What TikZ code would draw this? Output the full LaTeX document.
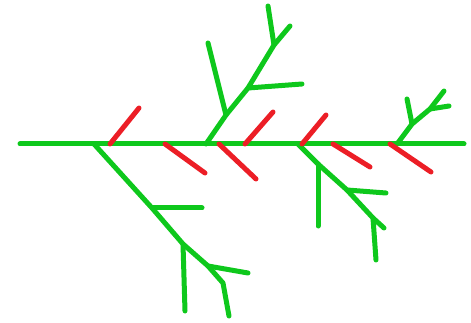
\documentclass[tikz,border=0pt]{standalone}
\definecolor{twig}{RGB}{14,200,28}
\definecolor{spur}{RGB}{236,30,38}
\tikzset{
  greenline/.style={draw=twig, line width=5pt, line cap=round, line join=round},
  redline/.style={draw=spur, line width=5pt, line cap=round},
}
\begin{document}
\begin{tikzpicture}[x=1pt,y=-1pt]
\useasboundingbox (0,0) rectangle (471,323);
% main spine
\coordinate (L) at (20,144);
\coordinate (R) at (464,144);
% red spurs
\coordinate (r1a) at (110,144); \coordinate (r1b) at (139,108);
\coordinate (r2a) at (165,144); \coordinate (r2b) at (205,173);
\coordinate (r3a) at (219,144); \coordinate (r3b) at (256,179);
\coordinate (r4a) at (245,144); \coordinate (r4b) at (273,112);
\coordinate (r5a) at (302,144); \coordinate (r5b) at (326,115);
\coordinate (r6a) at (333,144); \coordinate (r6b) at (370,167);
\coordinate (r7a) at (390,144); \coordinate (r7b) at (431,172);
% lower-left branch
\coordinate (a0) at (94,144);
\coordinate (a1) at (152,208);
\coordinate (a1e) at (202,208);
\coordinate (a2) at (183,244);
\coordinate (a2e) at (185,311);
\coordinate (a3) at (208,266);
\coordinate (a3e) at (248,273);
\coordinate (a4) at (223,283);
\coordinate (a5) at (229,316);
% upper branch
\coordinate (b0) at (206,144);
\coordinate (b1) at (226,115);
\coordinate (b1e) at (208,43);
\coordinate (b2) at (248,88);
\coordinate (b2e) at (302,84);
\coordinate (b3) at (274,45);
\coordinate (b3e) at (268,6);
\coordinate (b4) at (290,26);
% lower-right branch
\coordinate (c0) at (298,144);
\coordinate (c1) at (318,164);
\coordinate (c1e) at (318,226);
\coordinate (c2) at (347,190);
\coordinate (c2e) at (386,193);
\coordinate (c3) at (373,218);
\coordinate (c3e) at (376,260);
\coordinate (c4) at (384,228);
% right upper branch
\coordinate (d0) at (397,144);
\coordinate (d1) at (412,124);
\coordinate (d1e) at (407,99);
\coordinate (d2) at (430,109);
\coordinate (d2e) at (449,106);
\coordinate (d3) at (444,91);

\draw[greenline] (L) -- (R);
\draw[greenline] (a0) -- (a1) -- (a2) -- (a3) -- (a4) -- (a5);
\draw[greenline] (a1) -- (a1e);
\draw[greenline] (a2) -- (a2e);
\draw[greenline] (a3) -- (a3e);
\draw[greenline] (b0) -- (b1) -- (b2) -- (b3) -- (b4);
\draw[greenline] (b1) -- (b1e);
\draw[greenline] (b2) -- (b2e);
\draw[greenline] (b3) -- (b3e);
\draw[greenline] (c0) -- (c1) -- (c2) -- (c3) -- (c4);
\draw[greenline] (c1) -- (c1e);
\draw[greenline] (c2) -- (c2e);
\draw[greenline] (c3) -- (c3e);
\draw[greenline] (d0) -- (d1) -- (d2) -- (d3);
\draw[greenline] (d1) -- (d1e);
\draw[greenline] (d2) -- (d2e);

\draw[redline] (r1a) -- (r1b);
\draw[redline] (r2a) -- (r2b);
\draw[redline] (r3a) -- (r3b);
\draw[redline] (r4a) -- (r4b);
\draw[redline] (r5a) -- (r5b);
\draw[redline] (r6a) -- (r6b);
\draw[redline] (r7a) -- (r7b);
\end{tikzpicture}
\end{document}
